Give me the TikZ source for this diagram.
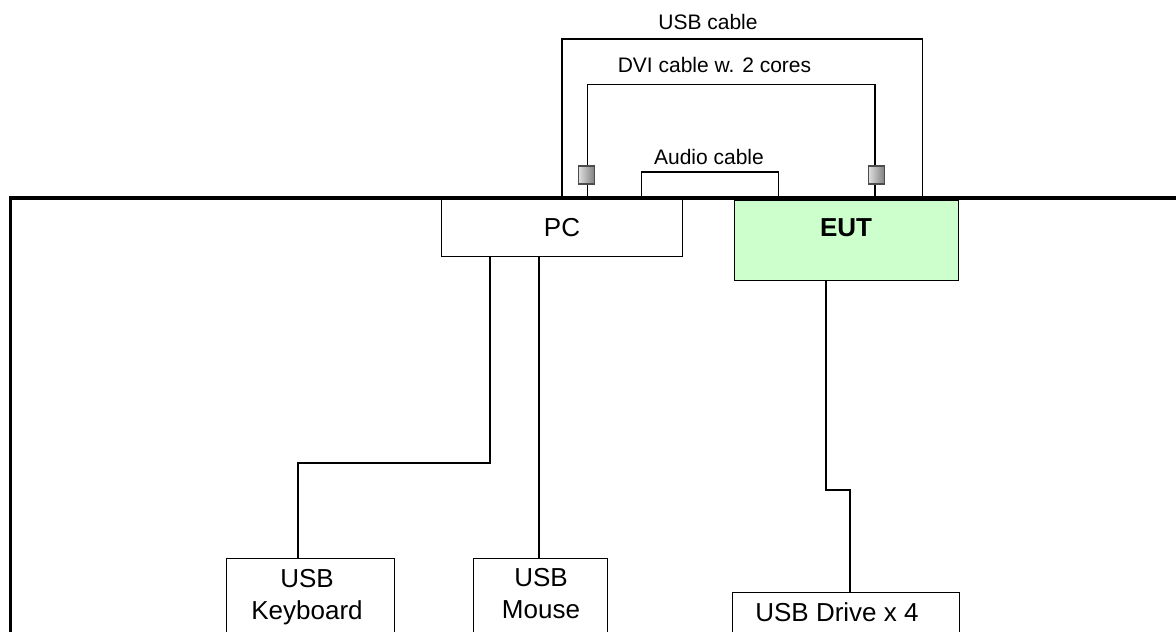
\documentclass[tikz,border=0pt]{standalone}
\usepackage{fontspec}
\setmainfont{Liberation Sans}
\begin{document}
\begin{tikzpicture}[x=1pt,y=-1pt,
  box/.style={draw, line width=1.3pt, inner sep=0pt, anchor=north west},
  wire/.style={draw, line width=1.1pt},
  cable/.style={draw, line width=1.4pt},
  conn/.style={draw=black!70, line width=1.2pt, minimum width=16pt, minimum height=18pt, inner sep=0pt,
    left color=gray!25, middle color=white, right color=black!50},
  lbl/.style={font=\fontsize{21}{24}\selectfont, inner sep=0pt},
  btxt/.style={font=\fontsize{26}{32}\selectfont, inner sep=0pt, align=center}]
\useasboundingbox (0,0) rectangle (1176,632);
\clip (0,0) rectangle (1176,632);
% outer table outline
\draw[line width=3.8pt] (10.5,660) -- (10.5,198) -- (1200,198);
% boxes
\node[box, minimum width=241pt, minimum height=57pt] (pc) at (441,199) {};
\node[btxt] (pct) at (562,228) {PC};
\node[box, fill={rgb,255:red,204;green,255;blue,204}, minimum width=224pt, minimum height=80pt] (eut) at (734,200) {};
\node[btxt, font=\fontsize{26}{32}\selectfont\bfseries] (eutt) at (846,227.5) {EUT};
\node[box, minimum width=168pt, minimum height=100pt] (kbd) at (226,558) {};
\node[btxt] (kbdt) at (307,597) {USB\\Keyboard};
\node[box, minimum width=134pt, minimum height=100pt] (mouse) at (473,558) {};
\node[btxt] (mouset) at (541,594) {USB\\Mouse};
\node[box, minimum width=227pt, minimum height=80pt] (drive) at (732,592) {};
\node[btxt] (drivet) at (837,612) {USB Drive x 4};
% lower wiring
\draw[wire] (490,0 |- pc.south) |- (298,463) -- (298,0 |- kbd.north);
\draw[wire] (539,0 |- pc.south) -- (539,0 |- mouse.north);
\draw[wire] (826,0 |- eut.south) |- (850,490) -- (850,0 |- drive.north);
% cable end points on the table edge
\coordinate (usbA) at (562,198);
\coordinate (usbB) at (922.5,198);
\coordinate (dviA) at (587.5,198);
\coordinate (dviB) at (875,198);
\coordinate (audA) at (641.5,198);
\coordinate (audB) at (778.5,198);
% cables
\draw[cable] (usbA) -- (562,39) -- (922.5,39) -- (usbB);
\draw[cable] (dviA) -- (587.5,84.5) -- (875,84.5) -- (dviB);
\draw[cable] (audA) -- (641.5,172) -- (778.5,172) -- (audB);
\node[conn] (connA) at (586.5,175) {};
\node[conn] (connB) at (876.5,175) {};
% labels
\node[lbl] (usbl) at (708,21.5) {USB cable};
\node[lbl] (dvil) at (714.5,65) {DVI cable w. 2 cores};
\node[lbl] (audl) at (709,157) {Audio cable};
\end{tikzpicture}
\end{document}
